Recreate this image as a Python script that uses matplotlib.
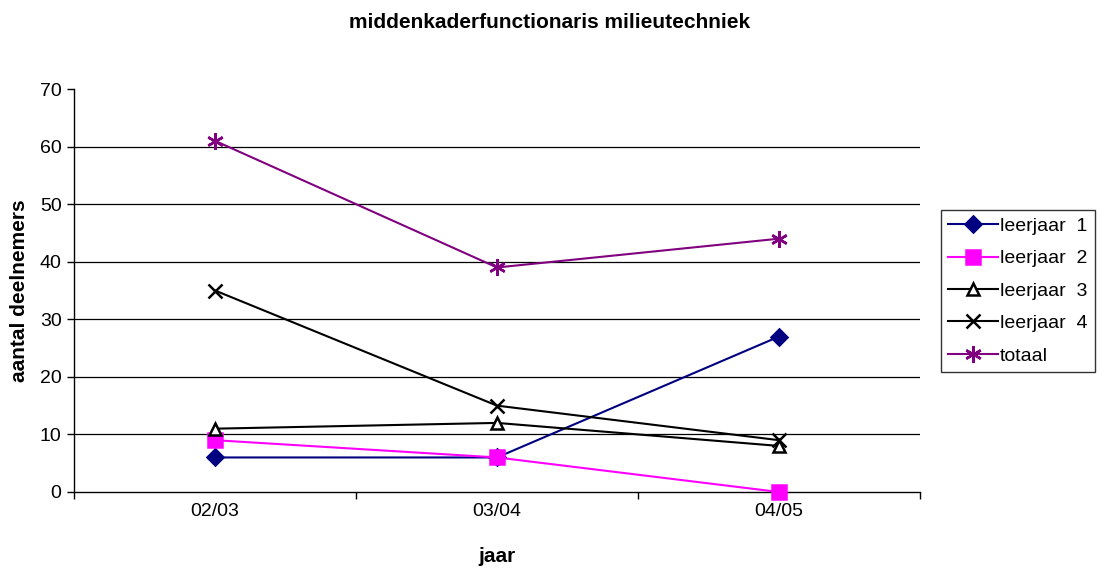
import matplotlib
matplotlib.use("Agg")
import matplotlib.pyplot as plt

plt.rcParams['font.family'] = ['Liberation Sans', 'DejaVu Sans']

years = ["02/03", "03/04", "04/05"]
leerjaar_1 = [6, 6, 27]
leerjaar_2 = [9, 6, 0]
leerjaar_3 = [11, 12, 8]
leerjaar_4 = [35, 15, 9]
totaal = [61, 39, 44]
labels = ["leerjaar  1", "leerjaar  2", "leerjaar  3", "leerjaar  4", "totaal"]

fig = plt.figure(figsize=(10.99, 5.68), dpi=100)
ax = fig.add_axes([74 / 1099, 1 - 492 / 568, (920 - 74) / 1099, (492 - 89) / 568])

x = [0.5, 1.5, 2.5]
series = [
    (leerjaar_1, "#000080", "D", 8, "#000080"),
    (leerjaar_2, "#FF00FF", "s", 10, "#FF00FF"),
    (leerjaar_3, "#000000", "^", 9, "white"),
    (leerjaar_4, "#000000", "x", 10, "none"),
    (totaal, "#800080", (6, 2, 0), 12, "none"),
]
for vals, color, marker, ms, mfc, lab in [s + (l,) for s, l in zip(series, labels)]:
    ax.plot(x, vals, color=color, lw=1.5, marker=marker, markersize=ms,
            markerfacecolor=mfc, markeredgecolor=color, markeredgewidth=1.8,
            label=lab, clip_on=False, zorder=3)

ax.set_xlim(0, 3)
ax.set_ylim(0, 70)
ax.set_yticks(range(0, 71, 10))
ax.set_xticks([0, 1, 2, 3], minor=False)
ax.set_xticklabels([])
ax.set_xticks(x, minor=True)
ax.set_xticklabels(years, minor=True)
ax.tick_params(axis='x', which='minor', length=0, pad=8, labelsize=14)
ax.tick_params(axis='x', which='major', direction='out', length=5, width=1)
ax.tick_params(axis='y', direction='out', length=5, width=1, labelsize=14, pad=4)

for v in range(10, 70, 10):
    ax.axhline(v, color='#000000', lw=0.9, zorder=1)

for side in ('top', 'right'):
    ax.spines[side].set_visible(False)
for side in ('left', 'bottom'):
    ax.spines[side].set_linewidth(1)

fig.text(497 / 1099, 1 - 557 / 568, "jaar", fontsize=15, fontweight='bold', ha='center', va='center')
ax.set_ylabel("aantal deelnemers", fontsize=15, fontweight='bold', labelpad=8)
fig.suptitle("middenkaderfunctionaris milieutechniek", fontsize=15, fontweight='bold', y=1 - 22 / 568, va='center')

leg = ax.legend(loc='upper left', bbox_to_anchor=(941 / 1099, 1 - 210 / 568), bbox_transform=fig.transFigure,
                frameon=True, fancybox=False, edgecolor='black', fontsize=14, handlelength=2.55,
                borderpad=0.38, labelspacing=0.76, handletextpad=0.1, borderaxespad=0)
leg.get_frame().set_linewidth(1)

fig.savefig("out.png", dpi=100)
